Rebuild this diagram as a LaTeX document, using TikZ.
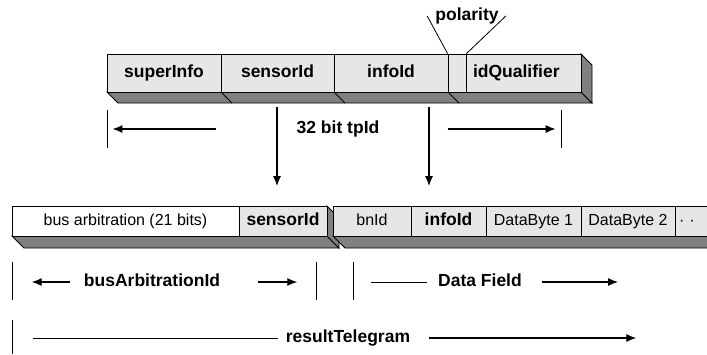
\documentclass[tikz,border=0pt]{standalone}
\usepackage{fontspec}
\setmainfont{Liberation Sans}
\usepackage{xcolor}
\usetikzlibrary{arrows.meta}
\definecolor{cellgray}{RGB}{230,230,230}
\definecolor{shadegray}{RGB}{128,128,128}

\begin{document}
\begin{tikzpicture}[
    x=1pt, y=-1pt,
    tcell/.style = {
        draw, fill=cellgray, line width=0.8pt, inner sep=0pt,
        minimum height=38pt, text height=12.8pt, text depth=3.7pt,
        font=\fontsize{17.5}{20}\selectfont\bfseries
    },
    bcell/.style = {
        draw, fill=cellgray, line width=0.8pt, inner sep=0pt,
        minimum height=30pt, text height=12pt, text depth=3.5pt,
        font=\fontsize{16}{19}\selectfont
    },
    bbold/.style = {font=\fontsize{17.5}{20}\selectfont\bfseries},
    face/.style = {draw, fill=shadegray, line width=0.8pt},
    lbl/.style = {
        inner sep=0pt, text height=12.8pt, text depth=3.7pt,
        font=\fontsize{17.5}{20}\selectfont\bfseries
    },
    arr/.style = {-{Latex[length=10pt, width=8pt]}, line width=1.1pt},
    bar/.style = {line width=1pt}
]
\useasboundingbox (0,0) rectangle (707,354);
\clip (0,0) rectangle (707,354);

%% ---- 32 BIT tpId ----
\draw[face] (107,92) -- (581,92) -- (592,103) -- (118,103) -- cycle;
\draw[face] (581,54) -- (592,65) -- (592,103) -- (581,92) -- cycle;
\foreach \x in {221,334,448}
    \draw[line width=0.8pt] (\x,92) -- ++(11,11);

\node[tcell, minimum width=114pt] (superInfo)    at (164,73)   {superInfo};
\node[tcell, minimum width=113pt] (sensorTop)    at (277.5,73) {sensorId};
\node[tcell, minimum width=114pt] (infoTop)      at (391,73)   {infoId};
\node[tcell, minimum width=18pt]  (polarityCell) at (457,73)   {};
\node[tcell, minimum width=115pt, text width=101pt, align=left]
    (idQualifier) at (523.5,73) {idQualifier};

\node[lbl] (polarity) at (467,16) {polarity};
\draw[line width=0.8pt] ([xshift=-8pt]polarity.west) -- (polarityCell.north west);
\draw[line width=0.8pt] ([xshift=7pt]polarity.east)  -- (polarityCell.north east);

%% ---- tpId WIDTH ----
\node[lbl] (tpId) at (338,129) {32 bit tpId};
\draw[bar] (107,110) -- (107,148);
\draw[bar] (561,110) -- (561,148);
\draw[arr] ([xshift=-80pt]tpId.west) -- ++(-104,0);
\draw[arr] ([xshift=68pt]tpId.east)  -- ++(108,0);

\coordinate (sensorDown) at (277,107);
\coordinate (sensorEnd)  at (277,186);
\coordinate (infoDown)   at (429,107);
\coordinate (infoEnd)    at (429,186);
\draw[arr] (sensorDown) -- (sensorEnd);
\draw[arr] (infoDown)   -- (infoEnd);

%% ---- TELEGRAM ----
\draw[face] (12,236) -- (327,236) -- (339,248) -- (24,248) -- cycle;
\draw[face] (327,206) -- (339,218) -- (339,248) -- (327,236) -- cycle;
\node[bcell, fill=white, minimum width=227pt] (busArb)    at (125.5,221) {bus arbitration (21 bits)};
\node[bcell, bbold, minimum width=88pt]       (sensorBot) at (283,221)   {sensorId};

\draw[face] (333,236) -- (760,236) -- (772,248) -- (345,248) -- cycle;
\node[bcell, minimum width=78pt]        (bnId)    at (372,221)   {bnId};
\node[bcell, bbold, minimum width=75pt] (infoBot) at (448.5,221) {infoId};
\node[bcell, minimum width=95pt]        (byteOne) at (533.5,221) {DataByte 1};
\node[bcell, minimum width=94pt]        (byteTwo) at (628,221)   {DataByte 2};
\node[bcell, minimum width=85pt, text width=77pt, align=left]
    (moreBytes) at (717.5,221) {·\hspace{5pt}·};

%% ---- FIELD WIDTHS ----
\foreach \x in {12,316,353}
    \draw[bar] (\x,262) -- (\x,300);
\node[lbl] (busArbId) at (152,282) {busArbitrationId};
\draw[arr] ([xshift=-14pt]busArbId.west) -- ++(-38,0);
\draw[arr] ([xshift=38pt]busArbId.east)  -- ++(39,0);

\node[lbl] (dataField) at (480,282) {Data Field};
\draw[bar] ([xshift=-11pt]dataField.west) -- ++(-56,0);
\draw[arr] ([xshift=20pt]dataField.east)  -- ++(76,0);

\draw[bar] (12,320) -- (12,354);
\node[lbl] (resultTel) at (348,338) {resultTelegram};
\draw[bar] ([xshift=-8pt]resultTel.west) -- ++(-245,0);
\draw[arr] ([xshift=19pt]resultTel.east) -- ++(207,0);

\end{tikzpicture}
\end{document}
